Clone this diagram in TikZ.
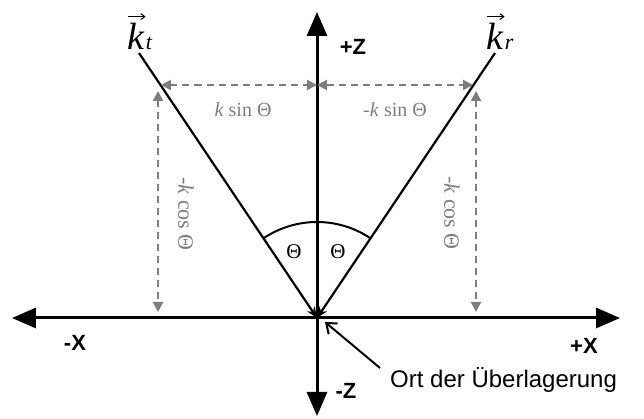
\documentclass[tikz,border=0pt]{standalone}
\usepackage{fontspec}
\setmainfont{Liberation Serif}
\setsansfont{Liberation Sans}
\usetikzlibrary{arrows.meta}
\definecolor{dgray}{RGB}{125,125,125}
\tikzset{
  axis/.style={line width=3pt,-{Triangle[length=24pt,width=20pt]}},
  kline/.style={line width=2.2pt,-{Stealth[length=11pt,width=9pt]}},
  dim/.style={dgray,line width=2pt,dash pattern=on 7pt off 5pt,{Triangle[length=10pt,width=10pt]}-{Triangle[length=10pt,width=10pt]}},
  dimlabel/.style={text=dgray,font=\fontsize{20}{22}\selectfont},
  vdimlabel/.style={text=dgray,font=\fontsize{22}{24}\selectfont,rotate=-90},
  axlabel/.style={font=\sffamily\bfseries\fontsize{22}{24}\selectfont},
  veck/.style={font=\itshape\fontsize{38}{40}\selectfont,inner sep=0pt},
  vecsub/.style={font=\itshape\fontsize{22}{24}\selectfont,inner sep=0pt,anchor=base west},
  vecarrow/.style={line width=1pt,-{Straight Barb[length=4pt,width=6pt]}},
}
\begin{document}
\begin{tikzpicture}[x=1pt,y=1pt]
\useasboundingbox (-317,-101) rectangle (327,318);
\coordinate (O) at (0,0);
\coordinate (Xl) at (-305,0);
\coordinate (Xr) at (303,0);
\coordinate (Zt) at (0,306);
\coordinate (Zb) at (0,-98);
\coordinate (Kt) at (-178,265);
\coordinate (Kr) at (178,265);
% axes
\draw[axis] (O) -- (Xl);
\draw[axis] (O) -- (Xr);
\draw[axis] (O) -- (Zt);
\draw[axis] (O) -- (Zb);
% k lines
\draw[kline] (Kt) -- (O);
\draw[kline] (Kr) -- (O);
% arc
\draw[line width=2pt] (123.9:96) arc[start angle=123.9,end angle=56.1,radius=96];
\node[font=\fontsize{21}{22}\selectfont] (thl) at (-23,66) {Θ};
\node[font=\fontsize{21}{22}\selectfont] (thr) at (21,66) {Θ};
% dimension lines
\coordinate (Hm) at (0,233);
\coordinate (Hl) at (-156,233);
\coordinate (Hr) at (156,233);
\coordinate (Vlt) at (-159,227);
\coordinate (Vlb) at (-159,6);
\coordinate (Vrt) at (159,227);
\coordinate (Vrb) at (159,6);
\draw[dim] (Hl) -- (Hm);
\draw[dim] (Hm) -- (Hr);
\draw[dim] (Vlt) -- (Vlb);
\draw[dim] (Vrt) -- (Vrb);
\node[dimlabel] (ls) at (-74,208) {\textit{k} sin Θ};
\node[dimlabel] (rs) at (78,208) {-\textit{k} sin Θ};
\node[vdimlabel] (lc) at (-131,104) {-\textit{k} cos Θ};
\node[vdimlabel] (rc) at (135,105) {-\textit{k} cos Θ};
% vector labels
\node[veck] (kt) at (-181,282) {k};
\node[vecsub] (kts) at ([xshift=1pt]kt.base east) {t};
\draw[vecarrow] ([xshift=1pt,yshift=6pt]kt.north west) -- ([xshift=1pt,yshift=6pt]kt.north east);
\node[veck] (kr) at (178,282) {k};
\node[vecsub] (krs) at ([xshift=1pt]kr.base east) {r};
\draw[vecarrow] ([xshift=1pt,yshift=6pt]kr.north west) -- ([xshift=1pt,yshift=6pt]kr.north east);
% axis labels
\node[axlabel] (pz) at (36,271) {+Z};
\node[axlabel] (mz) at (29,-73) {-Z};
\node[axlabel] (mx) at (-242,-25) {-X};
\node[axlabel] (px) at (267,-28) {+X};
% pointer
\node[font=\sffamily\fontsize{24}{26}\selectfont,anchor=base west,inner sep=0pt] (ort) at (73,-70) {Ort der Überlagerung};
\coordinate (P) at (8,-4);
\draw[line width=2pt,-{Straight Barb[length=9pt,width=14pt]}] (63,-50) -- (P);
\end{tikzpicture}
\end{document}
